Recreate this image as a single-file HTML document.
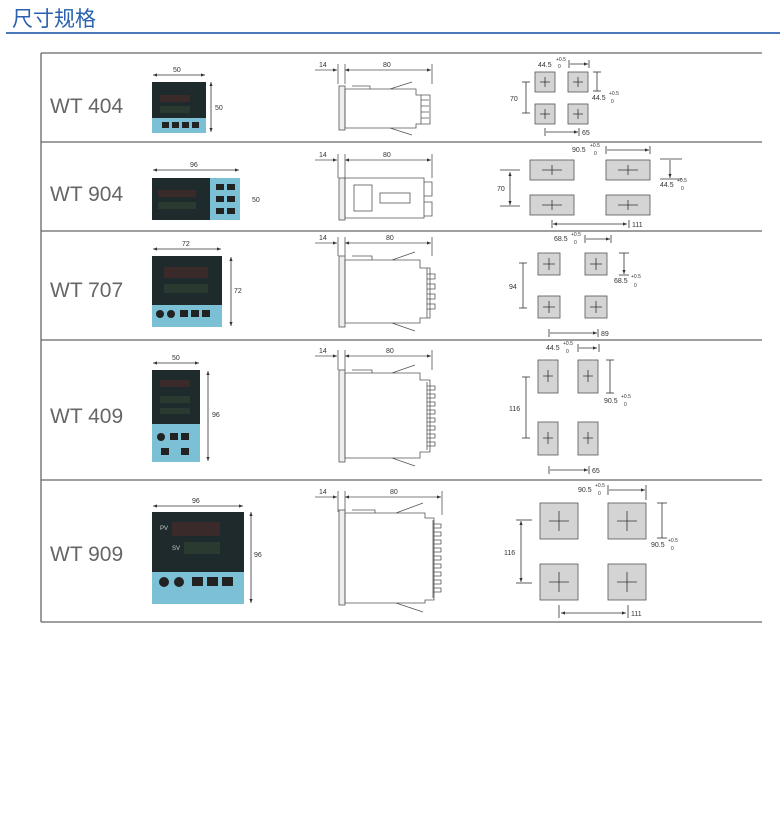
<!DOCTYPE html>
<html><head><meta charset="utf-8">
<style>
html,body{margin:0;padding:0;background:#fff;}
body{width:780px;height:839px;position:relative;overflow:hidden;font-family:"Liberation Sans","Noto Sans CJK SC",sans-serif;}
.t{position:absolute;left:12px;top:3px;font-size:21px;color:#2a62b0;font-family:"Liberation Sans","Noto Sans CJK SC",sans-serif;}
.hl{position:absolute;left:6px;top:32px;width:774px;height:2px;background:#4a78b8;}
.lb{position:absolute;left:50px;font-size:21px;color:#666;font-family:"Liberation Sans",sans-serif;}
svg{position:absolute;left:0;top:0;}
svg text{font-family:"Liberation Sans",sans-serif;font-size:7px;fill:#333;}
</style></head><body>
<div class="t">尺寸规格</div>
<div class="hl"></div>
<div class="lb" style="top:95px">WT 404</div>
<div class="lb" style="top:183px">WT 904</div>
<div class="lb" style="top:279px">WT 707</div>
<div class="lb" style="top:405px">WT 409</div>
<div class="lb" style="top:543px">WT 909</div>
<svg width="780" height="839" viewBox="0 0 780 839">
<defs>
<marker id="a" markerWidth="6" markerHeight="6" refX="5" refY="3" orient="auto"><path d="M0,1 L5,3 L0,5z" fill="#333"/></marker>
<marker id="b" markerWidth="6" markerHeight="6" refX="1" refY="3" orient="auto"><path d="M6,1 L1,3 L6,5z" fill="#333"/></marker>
</defs>
<g stroke="#666" stroke-width="1.3" fill="none">
<line x1="41" y1="53" x2="762" y2="53"/>
<line x1="41" y1="142" x2="762" y2="142"/>
<line x1="41" y1="231" x2="762" y2="231"/>
<line x1="41" y1="340" x2="762" y2="340"/>
<line x1="41" y1="480" x2="762" y2="480"/>
<line x1="41" y1="622" x2="762" y2="622"/>
<line x1="41" y1="53" x2="41" y2="622"/>
</g>

<g>
<rect x="152" y="82" width="54" height="51" fill="#1e2a2c"/>
<rect x="152" y="118" width="54" height="15" fill="#7cc0d6"/>
<rect x="160" y="95" width="30" height="7" fill="#3a2a2a"/><rect x="160" y="106" width="30" height="7" fill="#2a3a30"/>
<rect x="162" y="122" width="7" height="6" fill="#222"/><rect x="172" y="122" width="7" height="6" fill="#222"/><rect x="182" y="122" width="7" height="6" fill="#222"/><rect x="192" y="122" width="7" height="6" fill="#222"/>
<rect x="152" y="178" width="88" height="42" fill="#1e2a2c"/>
<rect x="210" y="178" width="30" height="42" fill="#7cc0d6"/>
<rect x="158" y="190" width="38" height="7" fill="#3a2a2a"/><rect x="158" y="202" width="38" height="7" fill="#2a3a30"/>
<rect x="216" y="184" width="8" height="6" fill="#222"/><rect x="227" y="184" width="8" height="6" fill="#222"/><rect x="216" y="196" width="8" height="6" fill="#222"/><rect x="227" y="196" width="8" height="6" fill="#222"/><rect x="216" y="208" width="8" height="6" fill="#222"/><rect x="227" y="208" width="8" height="6" fill="#222"/>
<rect x="152" y="256" width="70" height="71" fill="#1e2a2c"/>
<rect x="152" y="305" width="70" height="22" fill="#7cc0d6"/>
<rect x="164" y="267" width="44" height="11" fill="#3a2a2a"/><rect x="164" y="284" width="44" height="9" fill="#2a3a30"/>
<circle cx="160" cy="314" r="4" fill="#222"/><circle cx="171" cy="314" r="4" fill="#222"/><rect x="180" y="310" width="8" height="7" fill="#222"/><rect x="191" y="310" width="8" height="7" fill="#222"/><rect x="202" y="310" width="8" height="7" fill="#222"/>
<rect x="152" y="370" width="48" height="92" fill="#1e2a2c"/>
<rect x="152" y="424" width="48" height="38" fill="#7cc0d6"/>
<rect x="160" y="380" width="30" height="7" fill="#3a2a2a"/><rect x="160" y="396" width="30" height="7" fill="#2a3a30"/><rect x="160" y="408" width="30" height="6" fill="#2a3a30"/>
<circle cx="161" cy="437" r="4" fill="#222"/><rect x="170" y="433" width="8" height="7" fill="#222"/><rect x="181" y="433" width="8" height="7" fill="#222"/><rect x="161" y="448" width="8" height="7" fill="#222"/><rect x="181" y="448" width="8" height="7" fill="#222"/>
<rect x="152" y="512" width="92" height="92" fill="#1e2a2c"/>
<rect x="152" y="572" width="92" height="32" fill="#7cc0d6"/>
<rect x="172" y="522" width="48" height="14" fill="#3a2a2a"/><rect x="184" y="542" width="36" height="12" fill="#2a3a30"/>
<text x="160" y="530" style="fill:#ccc;font-size:6px">PV</text><text x="172" y="550" style="fill:#ccc;font-size:6px">SV</text>
<circle cx="164" cy="582" r="5" fill="#222"/><circle cx="179" cy="582" r="5" fill="#222"/><rect x="192" y="577" width="11" height="9" fill="#222"/><rect x="207" y="577" width="11" height="9" fill="#222"/><rect x="222" y="577" width="11" height="9" fill="#222"/>
</g>

<g stroke="#333" stroke-width="0.8">
<line x1="153" y1="75" x2="205" y2="75" marker-start="url(#b)" marker-end="url(#a)"/>
<line x1="211" y1="82" x2="211" y2="132" marker-start="url(#b)" marker-end="url(#a)"/>
<line x1="153" y1="170" x2="239" y2="170" marker-start="url(#b)" marker-end="url(#a)"/>
<line x1="153" y1="249" x2="221" y2="249" marker-start="url(#b)" marker-end="url(#a)"/>
<line x1="231" y1="257" x2="231" y2="326" marker-start="url(#b)" marker-end="url(#a)"/>
<line x1="153" y1="363" x2="199" y2="363" marker-start="url(#b)" marker-end="url(#a)"/>
<line x1="208" y1="371" x2="208" y2="461" marker-start="url(#b)" marker-end="url(#a)"/>
<line x1="153" y1="506" x2="243" y2="506" marker-start="url(#b)" marker-end="url(#a)"/>
<line x1="251" y1="512" x2="251" y2="603" marker-start="url(#b)" marker-end="url(#a)"/>
</g>
<text x="173" y="72">50</text><text x="215" y="110">50</text>
<text x="190" y="167">96</text><text x="252" y="202">50</text>
<text x="182" y="246">72</text><text x="234" y="293">72</text>
<text x="172" y="360">50</text><text x="212" y="417">96</text>
<text x="192" y="503">96</text><text x="254" y="557">96</text>

<g stroke="#555" stroke-width="0.8" fill="none">
<g>
<line x1="315" y1="70" x2="337" y2="70" marker-end="url(#a)"/>
<line x1="345" y1="70" x2="431" y2="70" marker-start="url(#b)" marker-end="url(#a)"/>
<line x1="338" y1="64" x2="338" y2="84"/><line x1="345" y1="64" x2="345" y2="84"/><line x1="432" y1="64" x2="432" y2="84"/>
<rect x="339" y="86" width="6" height="44" fill="#eee"/>
<path d="M345,89 H416 V95 H430 V124 H416 V128 H345Z M352,86 H370 V89 M390,89 L412,82 M390,128 L412,135"/>
<path d="M421,95 v29 M421,100 h8 M421,106 h8 M421,112 h8 M421,118 h8"/>
</g>
<g>
<line x1="315" y1="160" x2="337" y2="160" marker-end="url(#a)"/>
<line x1="345" y1="160" x2="431" y2="160" marker-start="url(#b)" marker-end="url(#a)"/>
<line x1="338" y1="154" x2="338" y2="178"/><line x1="345" y1="154" x2="345" y2="178"/><line x1="432" y1="154" x2="432" y2="178"/>
<rect x="339" y="178" width="6" height="42" fill="#eee"/>
<path d="M345,178 H424 V218 H345Z M424,182 H432 V196 H424 M424,202 H432 V216 H424"/>
<rect x="354" y="185" width="18" height="26"/><rect x="380" y="193" width="30" height="10"/>
</g>
<g>
<line x1="315" y1="243" x2="337" y2="243" marker-end="url(#a)"/>
<line x1="345" y1="243" x2="431" y2="243" marker-start="url(#b)" marker-end="url(#a)"/>
<line x1="338" y1="237" x2="338" y2="256"/><line x1="345" y1="237" x2="345" y2="256"/><line x1="432" y1="237" x2="432" y2="256"/>
<rect x="339" y="256" width="6" height="71" fill="#eee"/>
<path d="M345,260 H420 V268 H430 V318 H420 V323 H345Z M352,256 H372 V260 M392,260 L415,252 M392,323 L415,331"/>
<path d="M427,268 v50 M427,274 h8 v5 h-8 M427,284 h8 v5 h-8 M427,294 h8 v5 h-8 M427,304 h8 v5 h-8"/>
</g>
<g>
<line x1="315" y1="356" x2="337" y2="356" marker-end="url(#a)"/>
<line x1="345" y1="356" x2="431" y2="356" marker-start="url(#b)" marker-end="url(#a)"/>
<line x1="338" y1="350" x2="338" y2="370"/><line x1="345" y1="350" x2="345" y2="370"/><line x1="432" y1="350" x2="432" y2="370"/>
<rect x="339" y="370" width="6" height="92" fill="#eee"/>
<path d="M345,373 H420 V380 H430 V452 H420 V458 H345Z M352,370 H372 V373 M392,373 L415,365 M392,458 L415,466"/>
<path d="M427,382 v68 M427,386 h8 v4 h-8 M427,394 h8 v4 h-8 M427,402 h8 v4 h-8 M427,410 h8 v4 h-8 M427,418 h8 v4 h-8 M427,426 h8 v4 h-8 M427,434 h8 v4 h-8 M427,442 h8 v4 h-8"/>
</g>
<g>
<line x1="315" y1="497" x2="337" y2="497" marker-end="url(#a)"/>
<line x1="345" y1="497" x2="441" y2="497" marker-start="url(#b)" marker-end="url(#a)"/>
<line x1="338" y1="491" x2="338" y2="512"/><line x1="345" y1="491" x2="345" y2="512"/><line x1="442" y1="491" x2="442" y2="515"/>
<rect x="339" y="510" width="6" height="95" fill="#eee"/>
<path d="M345,513 H425 V518 H434 V600 H425 V603 H345Z M352,510 H375 V513 M396,513 L423,503 M396,603 L423,612"/>
<path d="M433,520 v78 M433,524 h8 v4 h-8 M433,532 h8 v4 h-8 M433,540 h8 v4 h-8 M433,548 h8 v4 h-8 M433,556 h8 v4 h-8 M433,564 h8 v4 h-8 M433,572 h8 v4 h-8 M433,580 h8 v4 h-8 M433,588 h8 v4 h-8"/>
</g>
</g>
<text x="319" y="67">14</text><text x="383" y="67">80</text>
<text x="319" y="157">14</text><text x="383" y="157">80</text>
<text x="319" y="240">14</text><text x="386" y="240">80</text>
<text x="319" y="353">14</text><text x="386" y="353">80</text>
<text x="319" y="494">14</text><text x="390" y="494">80</text>

<g fill="#d4d4d4" stroke="#555" stroke-width="0.8">
<rect x="535" y="72" width="20" height="20"/><rect x="568" y="72" width="20" height="20"/><rect x="535" y="104" width="20" height="20"/><rect x="568" y="104" width="20" height="20"/>
<rect x="530" y="160" width="44" height="20"/><rect x="606" y="160" width="44" height="20"/><rect x="530" y="195" width="44" height="20"/><rect x="606" y="195" width="44" height="20"/>
<rect x="538" y="253" width="22" height="22"/><rect x="585" y="253" width="22" height="22"/><rect x="538" y="296" width="22" height="22"/><rect x="585" y="296" width="22" height="22"/>
<rect x="538" y="360" width="20" height="33"/><rect x="578" y="360" width="20" height="33"/><rect x="538" y="422" width="20" height="33"/><rect x="578" y="422" width="20" height="33"/>
<rect x="540" y="503" width="38" height="36"/><rect x="608" y="503" width="38" height="36"/><rect x="540" y="564" width="38" height="36"/><rect x="608" y="564" width="38" height="36"/>
</g>
<g stroke="#333" stroke-width="0.8">
<path d="M540,82h10M545,77v10 M573,82h10M578,77v10 M540,114h10M545,109v10 M573,114h10M578,109v10"/>
<path d="M542,170h20M552,165v10 M618,170h20M628,165v10 M542,205h20M552,200v10 M618,205h20M628,200v10"/>
<path d="M543,264h12M549,258v12 M590,264h12M596,258v12 M543,307h12M549,301v12 M590,307h12M596,301v12"/>
<path d="M543,376h10M548,370v12 M583,376h10M588,370v12 M543,438h10M548,432v12 M583,438h10M588,432v12"/>
<path d="M549,521h20M559,511v20 M617,521h20M627,511v20 M549,582h20M559,572v20 M617,582h20M627,572v20"/>
<line x1="570" y1="64" x2="588" y2="64" marker-end="url(#a)"/><line x1="569" y1="60" x2="569" y2="68"/><line x1="589" y1="60" x2="589" y2="68"/>
<line x1="526" y1="82" x2="526" y2="113"/><line x1="522" y1="82" x2="530" y2="82"/><line x1="522" y1="113" x2="530" y2="113"/>
<line x1="597" y1="72" x2="597" y2="91"/><line x1="593" y1="72" x2="601" y2="72"/><line x1="593" y1="91" x2="601" y2="91"/>
<line x1="546" y1="132" x2="578" y2="132" marker-end="url(#a)"/><line x1="545" y1="128" x2="545" y2="136"/><line x1="579" y1="128" x2="579" y2="136"/>
<line x1="607" y1="150" x2="649" y2="150" marker-end="url(#a)"/><line x1="606" y1="146" x2="606" y2="154"/><line x1="650" y1="146" x2="650" y2="154"/>
<line x1="510" y1="172" x2="510" y2="205" marker-start="url(#b)" marker-end="url(#a)"/><line x1="500" y1="170" x2="520" y2="170"/><line x1="500" y1="206" x2="520" y2="206"/>
<line x1="670" y1="160" x2="670" y2="178" marker-end="url(#a)"/><line x1="660" y1="159" x2="682" y2="159"/><line x1="660" y1="179" x2="682" y2="179"/>
<line x1="553" y1="224" x2="627" y2="224" marker-start="url(#b)" marker-end="url(#a)"/><line x1="552" y1="220" x2="552" y2="228"/><line x1="629" y1="220" x2="629" y2="228"/>
<line x1="586" y1="239" x2="610" y2="239" marker-end="url(#a)"/><line x1="585" y1="235" x2="585" y2="243"/><line x1="611" y1="235" x2="611" y2="243"/>
<line x1="523" y1="263" x2="523" y2="308"/><line x1="519" y1="263" x2="527" y2="263"/><line x1="519" y1="308" x2="527" y2="308"/>
<line x1="624" y1="253" x2="624" y2="274" marker-end="url(#a)"/><line x1="619" y1="253" x2="629" y2="253"/><line x1="619" y1="275" x2="629" y2="275"/>
<line x1="550" y1="333" x2="597" y2="333" marker-end="url(#a)"/><line x1="549" y1="329" x2="549" y2="337"/><line x1="598" y1="329" x2="598" y2="337"/>
<line x1="579" y1="348" x2="597" y2="348" marker-end="url(#a)"/><line x1="578" y1="344" x2="578" y2="352"/><line x1="599" y1="344" x2="599" y2="352"/>
<line x1="526" y1="377" x2="526" y2="438"/><line x1="522" y1="377" x2="530" y2="377"/><line x1="522" y1="438" x2="530" y2="438"/>
<line x1="610" y1="360" x2="610" y2="393"/><line x1="606" y1="360" x2="614" y2="360"/><line x1="606" y1="393" x2="614" y2="393"/>
<line x1="550" y1="470" x2="588" y2="470" marker-end="url(#a)"/><line x1="549" y1="466" x2="549" y2="474"/><line x1="589" y1="466" x2="589" y2="474"/>
<line x1="609" y1="490" x2="645" y2="490" marker-end="url(#a)"/><line x1="608" y1="485" x2="608" y2="495"/><line x1="646" y1="485" x2="646" y2="500"/>
<line x1="521" y1="521" x2="521" y2="582" marker-start="url(#b)" marker-end="url(#a)"/><line x1="516" y1="520" x2="532" y2="520"/><line x1="516" y1="583" x2="532" y2="583"/>
<line x1="662" y1="503" x2="662" y2="538"/><line x1="657" y1="503" x2="667" y2="503"/><line x1="657" y1="538" x2="667" y2="538"/>
<line x1="561" y1="613" x2="626" y2="613" marker-start="url(#b)" marker-end="url(#a)"/><line x1="559" y1="605" x2="559" y2="618"/><line x1="628" y1="605" x2="628" y2="618"/>
</g>
<g style="font-size:7px">
<text x="538" y="67">44.5</text><text x="556" y="61" style="font-size:5px">+0.5</text><text x="558" y="68" style="font-size:5px">0</text>
<text x="510" y="101">70</text>
<text x="592" y="100">44.5</text><text x="609" y="95" style="font-size:5px">+0.5</text><text x="611" y="103" style="font-size:5px">0</text>
<text x="582" y="135">65</text>
<text x="572" y="152">90.5</text><text x="590" y="147" style="font-size:5px">+0.5</text><text x="594" y="155" style="font-size:5px">0</text>
<text x="497" y="191">70</text>
<text x="660" y="187">44.5</text><text x="677" y="182" style="font-size:5px">+0.5</text><text x="681" y="190" style="font-size:5px">0</text>
<text x="632" y="227">111</text>
<text x="554" y="241">68.5</text><text x="571" y="236" style="font-size:5px">+0.5</text><text x="574" y="244" style="font-size:5px">0</text>
<text x="509" y="289">94</text>
<text x="614" y="283">68.5</text><text x="631" y="278" style="font-size:5px">+0.5</text><text x="634" y="287" style="font-size:5px">0</text>
<text x="601" y="336">89</text>
<text x="546" y="350">44.5</text><text x="563" y="345" style="font-size:5px">+0.5</text><text x="566" y="353" style="font-size:5px">0</text>
<text x="509" y="411">116</text>
<text x="604" y="403">90.5</text><text x="621" y="398" style="font-size:5px">+0.5</text><text x="624" y="406" style="font-size:5px">0</text>
<text x="592" y="473">65</text>
<text x="578" y="492">90.5</text><text x="595" y="487" style="font-size:5px">+0.5</text><text x="598" y="495" style="font-size:5px">0</text>
<text x="504" y="555">116</text>
<text x="651" y="547">90.5</text><text x="668" y="542" style="font-size:5px">+0.5</text><text x="671" y="550" style="font-size:5px">0</text>
<text x="631" y="616">111</text>
</g>
</svg>
</body></html>
